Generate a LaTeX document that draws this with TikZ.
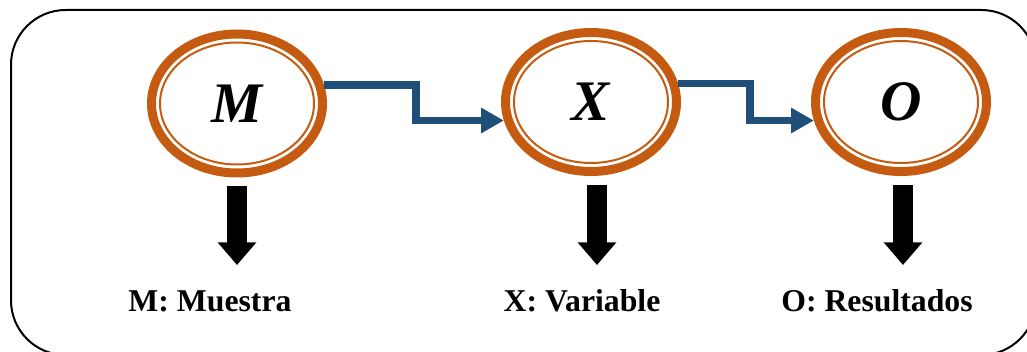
\documentclass[tikz,border=0pt]{standalone}
\usepackage{fontspec}
\setmainfont{Liberation Serif}
\usepackage{tikz}
\usetikzlibrary{shapes.geometric,arrows.meta}
\definecolor{ringorange}{RGB}{197,90,17}
\definecolor{flowblue}{RGB}{31,78,121}
\tikzstyle{ring} = [ellipse,draw=ringorange,line width=6.75pt,minimum width=128.25pt,minimum height=104.25pt,inner sep=0pt]
\tikzstyle{inner} = [ellipse,draw=ringorange,line width=1.5pt,minimum width=115.5pt,minimum height=91.5pt,inner sep=0pt,font=\fontsize{43}{50}\selectfont\bfseries\itshape]
\tikzstyle{label} = [anchor=base,font=\fontsize{23.8}{28}\selectfont\bfseries]
\tikzstyle{flow}=[flowblue,line width=5.5pt,-{Triangle[width=18pt,length=17pt]}]
\tikzstyle{down}=[black,line width=15pt,-{Triangle[width=28pt,length=17pt]}]

\begin{document}
\begin{tikzpicture}[x=0.75pt,y=-0.75pt]
\useasboundingbox (0,0) rectangle (1027,352);
\draw[line width=1.5pt,rounded corners=41pt] (11,10) rectangle (1036,355);

\node(M)[ring] at (237,103.5){};
\node(Min)[inner] at (M){\raisebox{-2pt}{M}};
\node(X)[ring] at (591,102){};
\node(Xin)[inner] at (X){\raisebox{-2pt}{X}};
\node(O)[ring] at (901,102){};
\node(Oin)[inner] at (O){\raisebox{-2pt}{O}};

\draw[flow](M.12)--++(92,0)|-(X.192);
\draw[flow](X.12)--++(72,0)|-(O.192);

\node(lm)[label] at (210,312){M: Muestra};
\node(lx)[label] at (582,312){X: Variable};
\node(lo)[label] at (877,312){O: Resultados};

\coordinate(mtip) at (237,265);
\coordinate(xtip) at (597,265);
\coordinate(otip) at (903,265);
\draw[down]([yshift=-6.5pt]M.south)--(mtip);
\draw[down]([xshift=4.5pt,yshift=-7pt]X.south)--(xtip);
\draw[down]([xshift=1.5pt,yshift=-7pt]O.south)--(otip);
\end{tikzpicture}
\end{document}
